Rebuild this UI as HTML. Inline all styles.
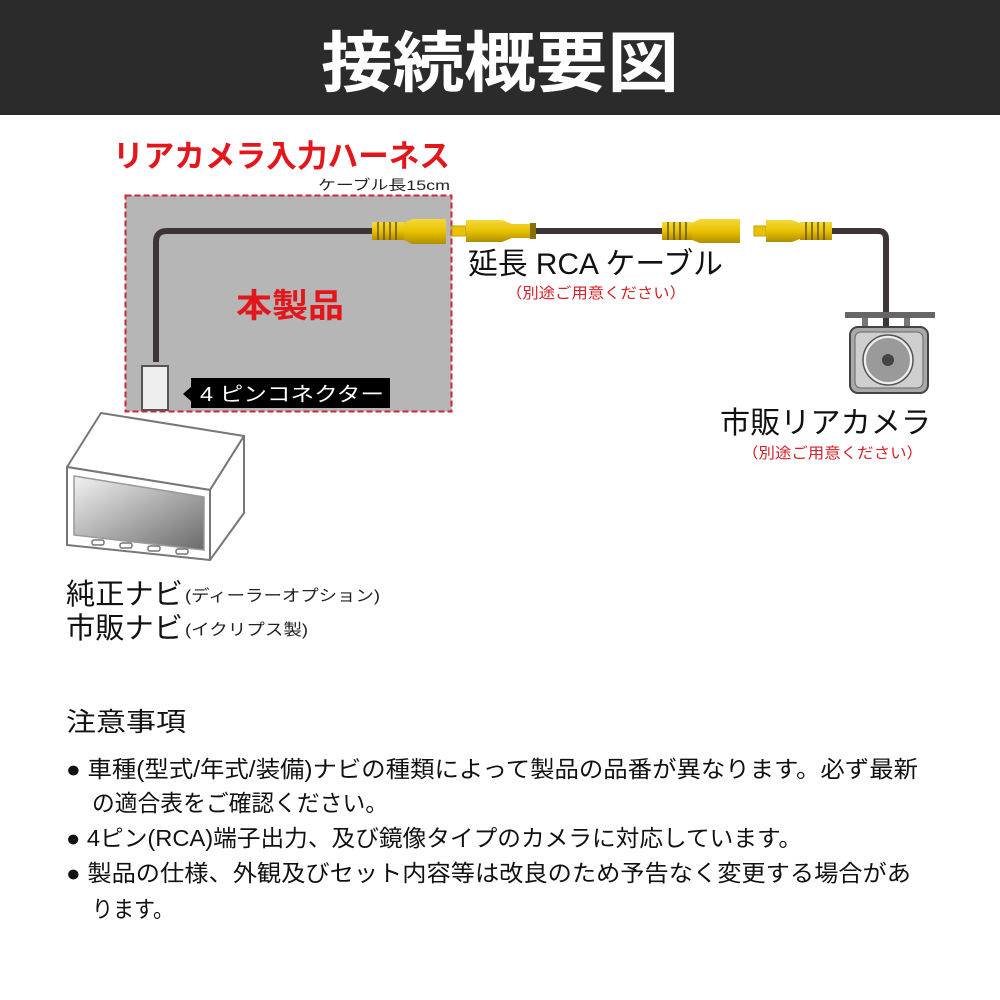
<!DOCTYPE html>
<html><head><meta charset="utf-8"><style>
html,body{margin:0;padding:0;background:#fff}
svg{display:block}
text{font-family:"Liberation Sans","Noto Sans CJK JP",sans-serif}
</style></head><body>
<svg width="1000" height="1000" viewBox="0 0 1000 1000">
<defs>
<linearGradient id="scr" x1="0" y1="0" x2="1" y2="1"><stop offset="0" stop-color="#f2f2f2"/><stop offset="1" stop-color="#6a6a6a"/></linearGradient>
<linearGradient id="yel" x1="0" y1="0" x2="0" y2="1"><stop offset="0" stop-color="#f5d83a"/><stop offset="0.5" stop-color="#e8c200"/><stop offset="1" stop-color="#b08f00"/></linearGradient>
</defs>
<rect x="0" y="0" width="1000" height="115" fill="#2b2b2b"/>
<text x="500" y="86" font-size="66" font-weight="bold" fill="#fff" text-anchor="middle" textLength="358" lengthAdjust="spacingAndGlyphs">接続概要図</text>

<text x="113" y="167" font-size="31" font-weight="bold" fill="#e3161b" textLength="337" lengthAdjust="spacingAndGlyphs">リアカメラ入力ハーネス</text>
<text x="318" y="190" font-size="14" fill="#222" textLength="132" lengthAdjust="spacingAndGlyphs">ケーブル長15cm</text>

<rect x="125.5" y="195.5" width="326" height="216" fill="#b6b6b6" stroke="#c8283a" stroke-width="2" stroke-dasharray="6,3"/>
<path d="M156 362 V242 Q156 231 167 231 H378" fill="none" stroke="#3d3535" stroke-width="6"/>
<rect x="142" y="366" width="26" height="44" fill="#eeeeee" stroke="#555" stroke-width="2"/>
<polygon points="183,394 191,387 191,401" fill="#000"/>
<rect x="191" y="378" width="199" height="30" fill="#000"/>
<text x="200" y="401" font-size="20" fill="#fff" textLength="184" lengthAdjust="spacingAndGlyphs">4 ピンコネクター</text>
<text x="290" y="317" font-size="33" font-weight="bold" fill="#e3161b" text-anchor="middle" textLength="108" lengthAdjust="spacingAndGlyphs">本製品</text>

<!-- female on harness -->
<rect x="372" y="222" width="32" height="18" fill="url(#yel)"/>
<g stroke="#6a5500" stroke-width="1.5"><line x1="378" y1="222" x2="378" y2="240"/><line x1="384" y1="222" x2="384" y2="240"/><line x1="390" y1="222" x2="390" y2="240"/><line x1="396" y1="222" x2="396" y2="240"/></g>
<path d="M404 223 L412 219 H446 V244 H412 L404 240 Z" fill="url(#yel)"/>

<!-- extension cable -->
<rect x="452" y="226" width="14" height="10" fill="#e8c200" stroke="#c4a000"/>
<path d="M466 220 H502 L512 224 H530 V238 H512 L502 242 H466 Z" fill="url(#yel)"/>
<rect x="530" y="223" width="6" height="16" fill="#8a7000"/>
<line x1="536" y1="231" x2="662" y2="231" stroke="#3d3535" stroke-width="6"/>
<rect x="662" y="222" width="30" height="18" fill="url(#yel)"/>
<g stroke="#6a5500" stroke-width="1.5"><line x1="668" y1="222" x2="668" y2="240"/><line x1="674" y1="222" x2="674" y2="240"/><line x1="680" y1="222" x2="680" y2="240"/><line x1="686" y1="222" x2="686" y2="240"/></g>
<path d="M692 223 L700 219 H740 V243 H700 L692 240 Z" fill="url(#yel)"/>

<!-- camera cable -->
<rect x="754" y="226" width="12" height="10" fill="#e8c200" stroke="#c4a000"/>
<path d="M766 220 H792 L800 223 V239 L792 242 H766 Z" fill="url(#yel)"/>
<rect x="800" y="222" width="32" height="18" fill="url(#yel)"/>
<g stroke="#6a5500" stroke-width="1.5"><line x1="806" y1="222" x2="806" y2="240"/><line x1="812" y1="222" x2="812" y2="240"/><line x1="818" y1="222" x2="818" y2="240"/><line x1="824" y1="222" x2="824" y2="240"/></g>
<path d="M832 231 H878 Q886 231 886 239 V330" fill="none" stroke="#3d3535" stroke-width="6"/>

<!-- camera -->
<rect x="845" y="312" width="90" height="6" fill="#666"/>
<rect x="862" y="318" width="6" height="10" fill="#777"/>
<rect x="904" y="318" width="6" height="10" fill="#777"/>
<rect x="850" y="327" width="78" height="66" rx="8" fill="#a9a9a9" stroke="#444" stroke-width="2"/>
<rect x="855" y="332" width="68" height="56" rx="6" fill="#cfcfcf" stroke="#666" stroke-width="1"/>
<circle cx="888" cy="360" r="25" fill="#eee" stroke="#555" stroke-width="1.5"/>
<circle cx="888" cy="360" r="22" fill="#9a9a9a"/>
<circle cx="888" cy="360" r="6" fill="#444"/>

<text x="468" y="274" font-size="30" fill="#111" textLength="255" lengthAdjust="spacingAndGlyphs">延長 RCA ケーブル</text>
<text x="506" y="298" font-size="15" fill="#d2232a" textLength="180" lengthAdjust="spacingAndGlyphs">（別途ご用意ください）</text>
<text x="720" y="433" font-size="30" fill="#111" textLength="211" lengthAdjust="spacingAndGlyphs">市販リアカメラ</text>
<text x="742" y="458" font-size="15" fill="#d2232a" textLength="181" lengthAdjust="spacingAndGlyphs">（別途ご用意ください）</text>

<!-- navi -->
<g fill="#fff" stroke="#777" stroke-width="2" stroke-linejoin="round">
<polygon points="101,413 244,436 210,490 67,467"/>
<polygon points="244,436 244,513 210,560 210,490"/>
<polygon points="67,467 210,490 210,560 67,545"/>
</g>
<polygon points="74,476 204,497 204,550 74,535" fill="url(#scr)" stroke="#999" stroke-width="1.5"/>
<g fill="#fff" stroke="#777" stroke-width="1.5">
<rect x="92" y="540" width="12" height="5" rx="2"/><rect x="120" y="543" width="12" height="5" rx="2"/><rect x="148" y="546" width="12" height="5" rx="2"/><rect x="176" y="549" width="12" height="5" rx="2"/>
</g>

<text x="66" y="604" font-size="29" fill="#111" textLength="117" lengthAdjust="spacingAndGlyphs">純正ナビ</text>
<text x="185" y="601" font-size="16" fill="#222" textLength="195" lengthAdjust="spacingAndGlyphs">(ディーラーオプション)</text>
<text x="66" y="638" font-size="29" fill="#111" textLength="117" lengthAdjust="spacingAndGlyphs">市販ナビ</text>
<text x="185" y="635" font-size="16" fill="#222" textLength="123" lengthAdjust="spacingAndGlyphs">(イクリプス製)</text>

<text x="66" y="731" font-size="26" fill="#111" textLength="120" lengthAdjust="spacingAndGlyphs">注意事項</text>
<g font-size="23" fill="#111">
<text x="66" y="777" textLength="852" lengthAdjust="spacingAndGlyphs">● 車種(型式/年式/装備)ナビの種類によって製品の品番が異なります。必ず最新</text>
<text x="92" y="811" textLength="296" lengthAdjust="spacingAndGlyphs">の適合表をご確認ください。</text>
<text x="66" y="846" textLength="736" lengthAdjust="spacingAndGlyphs">● 4ピン(RCA)端子出力、及び鏡像タイプのカメラに対応しています。</text>
<text x="66" y="881" textLength="845" lengthAdjust="spacingAndGlyphs">● 製品の仕様、外観及びセット内容等は改良のため予告なく変更する場合があ</text>
<text x="92" y="917" textLength="82" lengthAdjust="spacingAndGlyphs">ります。</text>
</g>
</svg>
</body></html>
